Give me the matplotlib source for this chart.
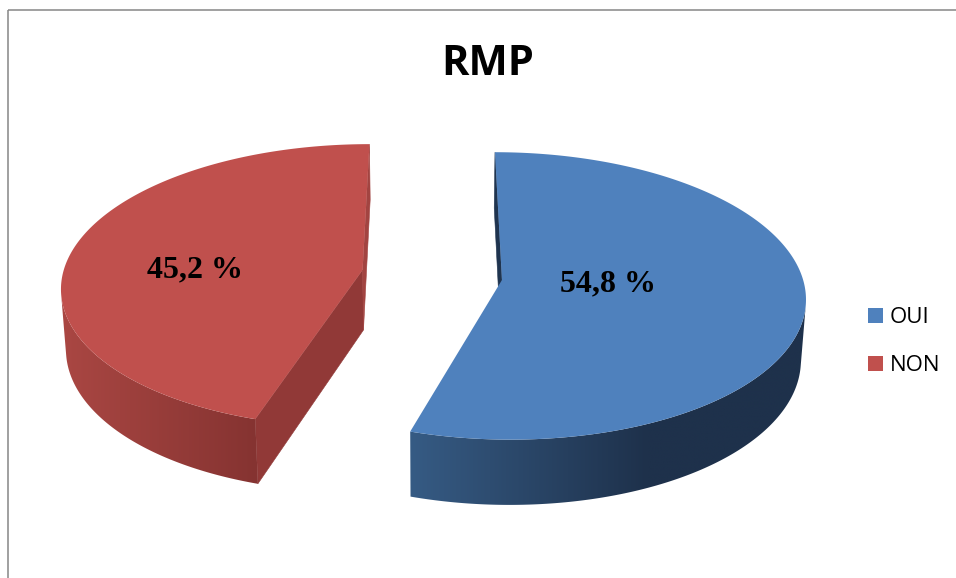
import numpy as np
import matplotlib
matplotlib.use("Agg")
import matplotlib.pyplot as plt
from matplotlib.patches import Polygon, Rectangle
from matplotlib.colors import to_rgb

# ---- data -------------------------------------------------------------
categories = ["OUI", "NON"]
values = [54.8, 45.2]
value_labels = ["54,8 %", "45,2 %"]
chart_title = "RMP"

# ---- style ------------------------------------------------------------
top_colors = ["#4F81BD", "#C0504D"]
side_light = ["#365B84", "#AA4743"]
side_dark = ["#1E314B", "#853331"]
dark_span = [0.6, 1.0]          # fraction of the side width over which it darkens
radial_colors = {("OUI", "start"): "#1F344F", ("OUI", "end"): "#1F344F",
                 ("NON", "start"): "#913937", ("NON", "end"): "#A24441"}

W, H = 956, 578
fig = plt.figure(figsize=(W / 100, H / 100), dpi=100)
ax = fig.add_axes([0, 0, 1, 1])
ax.axis("off")

# ---- simple perspective camera for the 3-D pie -------------------------
CX, CY = 432, 275
SCALE = 300
ELEV = np.radians(28)
DIST = 8.0
EXPLODE = 0.235
THICK = 0.23
CAM = np.array([0.0, -DIST * np.cos(ELEV), DIST * np.sin(ELEV)])


def project(X, Y, Z):
    X = np.asarray(X, float)
    Y = np.asarray(Y, float)
    Z = np.asarray(Z, float)
    yc = Y * np.sin(ELEV) + Z * np.cos(ELEV)
    d = Y * np.cos(ELEV) - Z * np.sin(ELEV)
    k = DIST / (DIST + d)
    return CX + SCALE * X * k, CY - SCALE * yc * k


total = sum(values)
start = 90.0
for i, (cat, v) in enumerate(zip(categories, values)):
    a0 = start
    a1 = start - v / total * 360.0
    start = a1
    mid = np.radians((a0 + a1) / 2)
    ox, oy = EXPLODE * np.cos(mid), EXPLODE * np.sin(mid)
    r0, r1 = np.radians(a0), np.radians(a1)

    # radial faces (edge at a0 and edge at a1)
    for tag, ang, normal in (("start", r0, (-np.sin(r0), np.cos(r0))),
                             ("end", r1, (np.sin(r1), -np.cos(r1)))):
        to_cam = CAM - np.array([ox, oy, -THICK / 2])
        if normal[0] * to_cam[0] + normal[1] * to_cam[1] <= 0:
            continue
        X = [ox, ox + np.cos(ang), ox + np.cos(ang), ox]
        Y = [oy, oy + np.sin(ang), oy + np.sin(ang), oy]
        Z = [0, 0, -THICK, -THICK]
        sx, sy = project(X, Y, Z)
        c = radial_colors[(cat, tag)]
        ax.add_patch(Polygon(np.column_stack([sx, sy]), closed=True,
                             facecolor=c, edgecolor=c, lw=0.4))

    # curved outer wall: visible part, filled with a horizontal gradient
    ts = np.linspace(r0, r1, 600)
    nx, ny = np.cos(ts), np.sin(ts)
    px, py = ox + nx, oy + ny
    vis = nx * (CAM[0] - px) + ny * (CAM[1] - py) > 0
    if vis.any():
        tv = ts[vis]
        tx, ty = project(ox + np.cos(tv), oy + np.sin(tv), np.zeros_like(tv))
        bx, by = project(ox + np.cos(tv), oy + np.sin(tv), np.full_like(tv, -THICK))
        wall = np.column_stack([np.concatenate([tx, bx[::-1]]),
                                np.concatenate([ty, by[::-1]])])
        clip = Polygon(wall, closed=True, facecolor="none", edgecolor="none")
        ax.add_patch(clip)
        xmin, xmax = wall[:, 0].min(), wall[:, 0].max()
        ymin, ymax = wall[:, 1].min(), wall[:, 1].max()
        gx = np.linspace(0, 1, 400)
        t = np.clip(gx / dark_span[i], 0, 1)
        c0, c1 = np.array(to_rgb(side_light[i])), np.array(to_rgb(side_dark[i]))
        grad = (c0[None, :] + (c1 - c0)[None, :] * t[:, None])[None, :, :]
        im = ax.imshow(grad, extent=(xmin, xmax, ymax, ymin), aspect="auto",
                       interpolation="bilinear", zorder=1)
        im.set_clip_path(clip)

    # top face
    tt = np.linspace(r0, r1, 400)
    X = np.concatenate([[ox], ox + np.cos(tt)])
    Y = np.concatenate([[oy], oy + np.sin(tt)])
    sx, sy = project(X, Y, np.zeros_like(X))
    ax.add_patch(Polygon(np.column_stack([sx, sy]), closed=True,
                         facecolor=top_colors[i], edgecolor="none", zorder=2))

ax.set_xlim(0, W)
ax.set_ylim(H, 0)

# ---- value labels ------------------------------------------------------
label_pos = [(608, 291), (195, 277)]
for (lx, ly), txt in zip(label_pos, value_labels):
    ax.text(lx, ly, txt, ha="center", va="baseline", fontsize=23,
            fontweight="bold", family="Liberation Serif", color="black",
            zorder=5)

# ---- title -------------------------------------------------------------
ax.text(488, 75, chart_title, ha="center", va="baseline", fontsize=30,
        fontweight="bold", family="Open Sans", color="black")

# ---- legend ------------------------------------------------------------
legend_y = [308, 356]
for cat, col, y in zip(categories, top_colors, legend_y):
    ax.add_patch(Rectangle((868, y), 15, 15, facecolor=col, edgecolor="none"))
    ax.text(890, y + 15, cat, ha="left", va="baseline", fontsize=16,
            family="Open Sans", color="black")

# ---- chart area border -------------------------------------------------
ax.plot([8, 8], [H + 5, 10], color="#868686", lw=1.1, solid_capstyle="butt")
ax.plot([8, W + 5], [10, 10], color="#868686", lw=1.1, solid_capstyle="butt")

fig.savefig("out.png", dpi=100, facecolor="white")
